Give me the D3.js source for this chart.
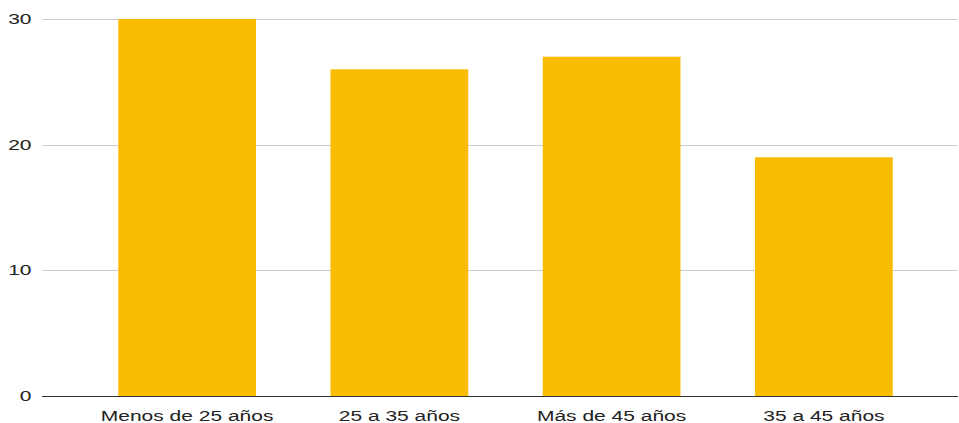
<!DOCTYPE html>
<html>
<head>
<meta charset="utf-8">
<script src="https://cdn.jsdelivr.net/npm/d3@7"></script>
<style>
  html, body { margin: 0; padding: 0; background: #fff; }
  svg { display: block; }
  text { font-family: "Liberation Sans", Arial, sans-serif; fill: #222; }
</style>
</head>
<body>
<div id="chart"></div>
<script>
const categories = ["Menos de 25 años", "25 a 35 años", "Más de 45 años", "35 a 45 años"];
const values = [30, 26, 27, 19];
const yTicks = [0, 10, 20, 30];

const W = 959, H = 423;
const plotLeft = 42, plotRight = 958;
const sx = 1.4;

const svg = d3.select("#chart").append("svg").attr("width", W).attr("height", H);

const x = d3.scaleBand().domain(categories).range([81, 930])
  .paddingInner(0.351).paddingOuter(0.1755);
const y = d3.scaleLinear().domain([0, 30]).range([396, 19]);

// gridlines
svg.append("g").selectAll("line").data(yTicks.filter(d => d !== 0)).join("line")
  .attr("x1", plotLeft).attr("x2", plotRight)
  .attr("y1", d => Math.round(y(d)) + 0.5).attr("y2", d => Math.round(y(d)) + 0.5)
  .attr("stroke", "#cccccc").attr("stroke-width", 1);

// bars
svg.append("g").selectAll("rect").data(values).join("rect")
  .attr("x", (d, i) => x(categories[i]))
  .attr("width", x.bandwidth())
  .attr("y", d => y(d))
  .attr("height", d => y(0) - y(d))
  .attr("fill", "#fbbc04");

// baseline
svg.append("line")
  .attr("x1", plotLeft).attr("x2", plotRight)
  .attr("y1", Math.round(y(0)) + 0.5).attr("y2", Math.round(y(0)) + 0.5)
  .attr("stroke", "#333333").attr("stroke-width", 1);

// y tick labels
svg.append("g").selectAll("text").data(yTicks).join("text")
  .attr("transform", d => `translate(31.5,${y(d) + 5}) scale(${sx},1)`)
  .attr("text-anchor", "end")
  .style("font-size", "15px")
  .text(d => d);

// x labels
svg.append("g").selectAll("text").data(categories).join("text")
  .attr("transform", d => `translate(${x(d) + x.bandwidth() / 2},420.5) scale(${sx},1)`)
  .attr("text-anchor", "middle")
  .style("font-size", "15px")
  .text(d => d);
</script>
</body>
</html>
